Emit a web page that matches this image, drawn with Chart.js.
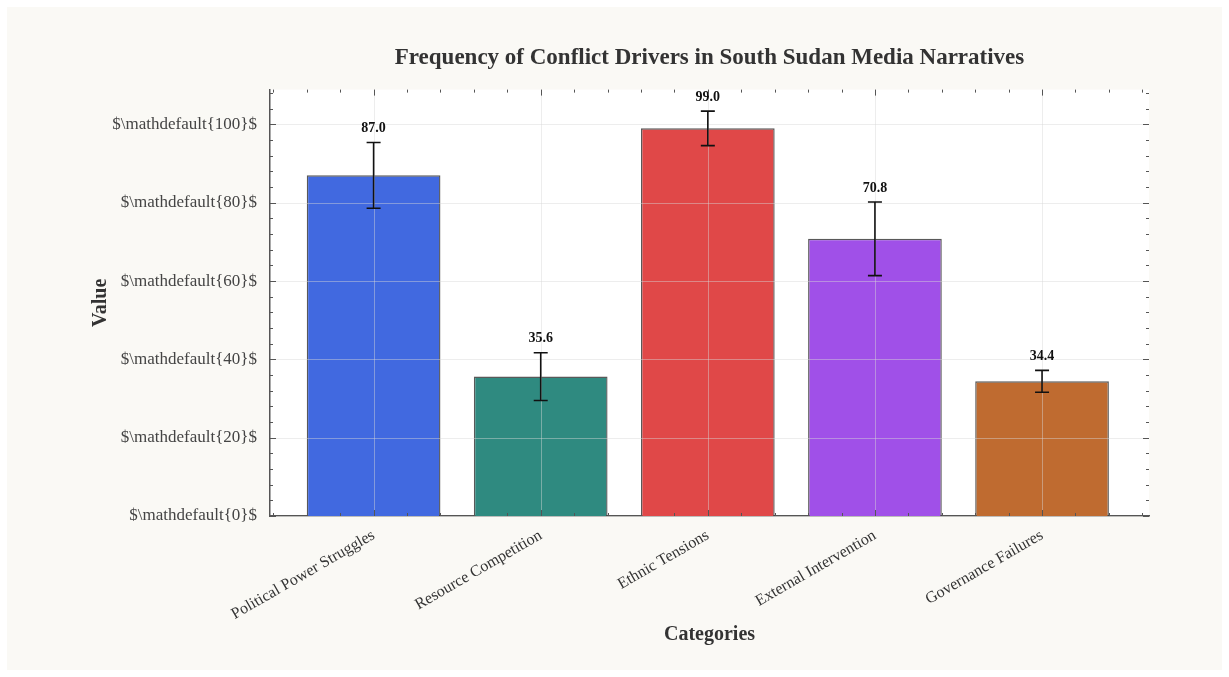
<!DOCTYPE html>
<html>
<head>
<meta charset="utf-8">
<title>Conflict Drivers</title>
<script src="https://cdn.jsdelivr.net/npm/chart.js"></script>
<style>
  html, body { margin: 0; padding: 0; background: #ffffff; }
  #wrap {
    position: absolute; left: 7px; top: 7px;
    width: 1215px; height: 663px;
    background: #faf9f5;
  }
</style>
</head>
<body>
<div id="wrap"><canvas id="chart" width="1215" height="663"></canvas></div>
<script>
// data
const categories = ['Political Power Struggles', 'Resource Competition', 'Ethnic Tensions', 'External Intervention', 'Governance Failures'];
const values = [87.0, 35.6, 99.0, 70.8, 34.4];
const errors = [8.4, 6.1, 4.4, 9.4, 2.8];
const barColors = ['#4169e0', '#2f8a80', '#e04848', '#a050e8', '#bf6b30'];
const yTicks = [0, 20, 40, 60, 80, 100];

const serif = "'Liberation Serif', 'DejaVu Serif', serif";

// white plot background, grid on top of bars, inward ticks, error bars and value labels
const decorPlugin = {
  id: 'decor',
  beforeDraw(chart) {
    const a = chart.chartArea, ctx = chart.ctx;
    ctx.save();
    ctx.fillStyle = '#ffffff';
    ctx.fillRect(a.left, a.top, a.right - a.left, a.bottom - a.top);
    ctx.restore();
  },
  afterDatasetsDraw(chart) {
    const a = chart.chartArea, ctx = chart.ctx;
    const xs = chart.scales.x, ys = chart.scales.y;
    ctx.save();
    // grid lines (drawn over the bars like the original)
    ctx.strokeStyle = 'rgba(215,215,215,0.45)';
    ctx.lineWidth = 1;
    categories.forEach((c, i) => {
      const px = Math.round(xs.getPixelForValue(i)) + 0.5;
      ctx.beginPath(); ctx.moveTo(px, a.top); ctx.lineTo(px, a.bottom); ctx.stroke();
    });
    yTicks.forEach(v => {
      const py = Math.round(ys.getPixelForValue(v)) + 0.5;
      ctx.beginPath(); ctx.moveTo(a.left, py); ctx.lineTo(a.right, py); ctx.stroke();
    });

    // error bars + labels
    ctx.strokeStyle = '#111';
    ctx.lineWidth = 1.6;
    ctx.fillStyle = '#111';
    ctx.font = 'bold 14px ' + serif;
    ctx.textAlign = 'center';
    ctx.textBaseline = 'bottom';
    values.forEach((v, i) => {
      const px = xs.getPixelForValue(i);
      const top = ys.getPixelForValue(v + errors[i]);
      const bot = ys.getPixelForValue(v - errors[i]);
      ctx.beginPath();
      ctx.moveTo(px, top); ctx.lineTo(px, bot);
      ctx.moveTo(px - 7, top); ctx.lineTo(px + 7, top);
      ctx.moveTo(px - 7, bot); ctx.lineTo(px + 7, bot);
      ctx.stroke();
      ctx.fillText(v.toFixed(1), px, top - 7);
    });

    // inward ticks on all four sides
    ctx.strokeStyle = '#555';
    ctx.lineWidth = 1;
    for (let k = -3; k <= 23; k++) {
      const val = k / 5;
      if (val < xs.min || val > xs.max) continue;
      const px = Math.round(xs.getPixelForValue(val)) + 0.5;
      const len = (k % 5 === 0) ? 6 : 3;
      ctx.beginPath();
      ctx.moveTo(px, a.bottom); ctx.lineTo(px, a.bottom - len);
      ctx.moveTo(px, a.top); ctx.lineTo(px, a.top + len);
      ctx.stroke();
    }
    for (let v = 0; v <= ys.max; v += 4) {
      const py = Math.round(ys.getPixelForValue(v)) + 0.5;
      const len = (v % 20 === 0) ? 6 : 3;
      ctx.beginPath();
      ctx.moveTo(a.left, py); ctx.lineTo(a.left + len, py);
      ctx.moveTo(a.right, py); ctx.lineTo(a.right - len, py);
      ctx.stroke();
    }
    ctx.restore();
  }
};

const ctx = document.getElementById('chart').getContext('2d');
new Chart(ctx, {
  type: 'bar',
  data: {
    datasets: [{
      data: values.map((v, i) => ({ x: i, y: v })),
      backgroundColor: barColors,
      borderColor: 'rgba(60,60,60,0.85)',
      borderWidth: 1.4,
      barPercentage: 0.8,
      categoryPercentage: 1.0
    }]
  },
  options: {
    responsive: false,
    animation: false,
    layout: { padding: { left: 75, right: 73, top: 0, bottom: 0 } },
    plugins: {
      legend: { display: false },
      tooltip: { enabled: false },
      title: {
        display: true,
        fullSize: false,
        text: 'Frequency of Conflict Drivers in South Sudan Media Narratives',
        color: '#333',
        font: { family: serif, size: 23, weight: 'bold' },
        padding: { top: 37, bottom: 18 }
      }
    },
    scales: {
      x: {
        type: 'linear',
        offset: false,
        min: -0.62,
        max: 4.64,
        afterBuildTicks(scale) { scale.ticks = categories.map((c, i) => ({ value: i })); },
        afterFit(scale) { scale.height = 154; },
        ticks: {
          color: '#333',
          font: { family: serif, size: 16 },
          maxRotation: 30,
          minRotation: 30,
          padding: 2,
          callback: (v) => categories[v]
        },
        grid: { display: false },
        border: { display: true, color: '#555', width: 1.5 },
        title: {
          display: true,
          text: 'Categories',
          color: '#333',
          font: { family: serif, size: 20, weight: 'bold' },
          padding: { top: 0, bottom: 23 }
        }
      },
      y: {
        min: 0,
        max: 108.9,
        afterFit(scale) { scale.width = 188; },
        ticks: {
          stepSize: 20,
          includeBounds: false,
          color: '#444',
          font: { family: serif, size: 17 },
          padding: 5,
          callback: (v) => '$\\mathdefault{' + v + '}$'
        },
        grid: { display: false },
        border: { display: true, color: '#555', width: 1.5 },
        title: {
          display: true,
          text: 'Value',
          color: '#333',
          font: { family: serif, size: 20, weight: 'bold' },
          padding: { top: 7, bottom: 0 }
        }
      }
    }
  },
  plugins: [decorPlugin]
});
</script>
</body>
</html>
